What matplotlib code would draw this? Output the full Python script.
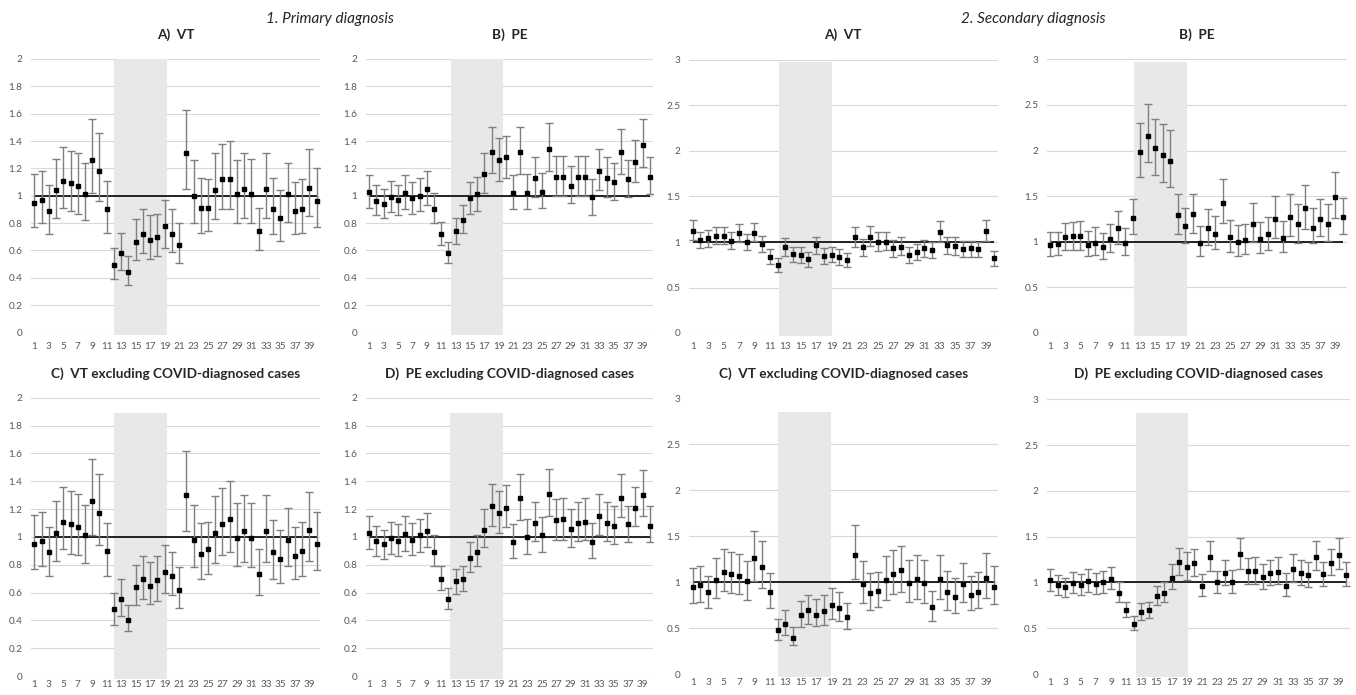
import numpy as np
import matplotlib.pyplot as plt

plt.rcParams['font.family'] = ['Lato', 'DejaVu Sans']

# Week index 1..40, odd weeks labelled on the axis
weeks = np.arange(1, 41)
week_labels = [str(w) if w % 2 == 1 else "" for w in weeks]

# 1. Primary diagnosis, A) VT  (ratio, lower CI, upper CI)
vt_primary = [0.95, 0.97, 0.89, 1.04, 1.11, 1.09, 1.07, 1.01, 1.26, 1.18,
              0.90, 0.49, 0.58, 0.44, 0.66, 0.72, 0.68, 0.70, 0.78, 0.72,
              0.64, 1.31, 1.00, 0.91, 0.91, 1.04, 1.12, 1.12, 1.01, 1.05,
              1.01, 0.74, 1.05, 0.90, 0.84, 1.01, 0.89, 0.90, 1.06, 0.96]
vt_primary_lo = [0.77, 0.80, 0.72, 0.84, 0.91, 0.89, 0.87, 0.82, 1.02, 0.96,
                 0.73, 0.39, 0.46, 0.35, 0.53, 0.58, 0.54, 0.56, 0.62, 0.59,
                 0.51, 1.05, 0.80, 0.73, 0.74, 0.83, 0.90, 0.90, 0.80, 0.84,
                 0.80, 0.60, 0.84, 0.72, 0.67, 0.81, 0.72, 0.73, 0.85, 0.77]
vt_primary_hi = [1.16, 1.18, 1.08, 1.27, 1.36, 1.33, 1.31, 1.24, 1.56, 1.46,
                 1.11, 0.62, 0.73, 0.56, 0.83, 0.90, 0.86, 0.87, 0.97, 0.90,
                 0.80, 1.63, 1.26, 1.13, 1.12, 1.31, 1.38, 1.40, 1.26, 1.31,
                 1.27, 0.91, 1.31, 1.13, 1.04, 1.24, 1.10, 1.12, 1.34, 1.20]

# 1. Primary diagnosis, B) PE
pe_primary = [1.03, 0.96, 0.94, 0.99, 0.97, 1.02, 0.98, 1.00, 1.05, 0.90,
              0.72, 0.58, 0.74, 0.82, 0.98, 1.01, 1.16, 1.32, 1.26, 1.28,
              1.02, 1.32, 1.02, 1.13, 1.03, 1.34, 1.14, 1.14, 1.07, 1.14,
              1.14, 0.99, 1.18, 1.13, 1.10, 1.32, 1.12, 1.25, 1.37, 1.14]
pe_primary_lo = [0.91, 0.86, 0.84, 0.88, 0.86, 0.90, 0.87, 0.89, 0.93, 0.80,
                 0.64, 0.51, 0.65, 0.73, 0.87, 0.89, 1.02, 1.17, 1.11, 1.13,
                 0.90, 1.16, 0.90, 0.99, 0.91, 1.18, 1.00, 1.00, 0.95, 1.00,
                 1.00, 0.86, 1.04, 0.99, 0.97, 1.16, 0.99, 1.10, 1.21, 1.01]
pe_primary_hi = [1.15, 1.08, 1.05, 1.11, 1.08, 1.15, 1.10, 1.13, 1.18, 1.02,
                 0.81, 0.66, 0.84, 0.93, 1.10, 1.14, 1.31, 1.50, 1.42, 1.44,
                 1.15, 1.50, 1.16, 1.28, 1.17, 1.53, 1.29, 1.29, 1.22, 1.29,
                 1.29, 1.12, 1.34, 1.28, 1.24, 1.49, 1.26, 1.41, 1.56, 1.28]

# 2. Secondary diagnosis, A) VT
vt_secondary = [1.12, 1.02, 1.04, 1.07, 1.07, 1.01, 1.10, 1.00, 1.10, 0.98,
                0.84, 0.75, 0.95, 0.87, 0.86, 0.81, 0.97, 0.85, 0.86, 0.84,
                0.80, 1.05, 0.94, 1.06, 1.00, 1.00, 0.93, 0.95, 0.86, 0.89,
                0.93, 0.91, 1.11, 0.97, 0.96, 0.92, 0.93, 0.92, 1.12, 0.82]
vt_secondary_lo = [1.02, 0.93, 0.94, 0.98, 0.98, 0.92, 1.00, 0.91, 1.01, 0.89,
                   0.76, 0.67, 0.85, 0.78, 0.77, 0.72, 0.87, 0.76, 0.78, 0.75,
                   0.72, 0.95, 0.85, 0.96, 0.90, 0.91, 0.84, 0.86, 0.77, 0.80,
                   0.83, 0.82, 1.00, 0.87, 0.86, 0.83, 0.83, 0.83, 1.01, 0.74]
vt_secondary_hi = [1.24, 1.11, 1.13, 1.17, 1.17, 1.11, 1.20, 1.09, 1.21, 1.07,
                   0.92, 0.82, 1.04, 0.95, 0.94, 0.89, 1.06, 0.93, 0.95, 0.92,
                   0.88, 1.16, 1.03, 1.18, 1.11, 1.11, 1.02, 1.05, 0.94, 0.98,
                   1.02, 1.00, 1.23, 1.06, 1.05, 1.01, 1.01, 1.00, 1.24, 0.90]

# 2. Secondary diagnosis, B) PE
pe_secondary = [0.97, 0.98, 1.05, 1.06, 1.06, 0.97, 0.99, 0.94, 1.03, 1.15,
                0.99, 1.26, 1.98, 2.16, 2.03, 1.95, 1.88, 1.29, 1.17, 1.30,
                0.99, 1.15, 1.08, 1.43, 1.05, 1.00, 1.02, 1.19, 1.03, 1.08,
                1.25, 1.04, 1.27, 1.19, 1.37, 1.15, 1.25, 1.19, 1.49, 1.27]
pe_secondary_lo = [0.84, 0.85, 0.91, 0.91, 0.91, 0.84, 0.85, 0.81, 0.89, 0.98,
                   0.85, 1.08, 1.71, 1.87, 1.73, 1.66, 1.60, 1.09, 0.99, 1.10,
                   0.84, 0.97, 0.92, 1.21, 0.89, 0.84, 0.87, 1.00, 0.88, 0.91,
                   1.04, 0.89, 1.06, 0.99, 1.14, 0.99, 1.06, 1.01, 1.26, 1.09]
pe_secondary_hi = [1.11, 1.11, 1.21, 1.22, 1.23, 1.12, 1.16, 1.10, 1.20, 1.34,
                   1.15, 1.47, 2.30, 2.51, 2.35, 2.29, 2.22, 1.52, 1.37, 1.52,
                   1.17, 1.36, 1.28, 1.69, 1.24, 1.18, 1.20, 1.42, 1.22, 1.27,
                   1.50, 1.23, 1.52, 1.41, 1.62, 1.37, 1.47, 1.41, 1.76, 1.48]

# C) VT excluding COVID-diagnosed cases (same series shown in both halves)
vt_excl = [0.95, 0.97, 0.89, 1.03, 1.11, 1.09, 1.07, 1.01, 1.26, 1.17,
           0.90, 0.48, 0.55, 0.40, 0.64, 0.70, 0.65, 0.69, 0.75, 0.72,
           0.62, 1.30, 0.98, 0.88, 0.91, 1.03, 1.09, 1.13, 0.99, 1.04,
           0.99, 0.73, 1.04, 0.89, 0.84, 0.98, 0.86, 0.90, 1.05, 0.95]
vt_excl_lo = [0.77, 0.79, 0.72, 0.83, 0.91, 0.88, 0.87, 0.81, 1.01, 0.94,
              0.72, 0.37, 0.43, 0.32, 0.51, 0.55, 0.52, 0.54, 0.60, 0.58,
              0.49, 1.04, 0.78, 0.70, 0.73, 0.81, 0.87, 0.89, 0.79, 0.82,
              0.78, 0.58, 0.82, 0.70, 0.67, 0.79, 0.70, 0.72, 0.83, 0.76]
vt_excl_hi = [1.16, 1.18, 1.07, 1.26, 1.36, 1.33, 1.31, 1.23, 1.56, 1.45,
              1.10, 0.60, 0.70, 0.51, 0.80, 0.86, 0.82, 0.86, 0.94, 0.89,
              0.78, 1.62, 1.23, 1.10, 1.11, 1.29, 1.35, 1.40, 1.24, 1.30,
              1.24, 0.91, 1.30, 1.12, 1.05, 1.21, 1.07, 1.11, 1.32, 1.18]

# D) PE excluding COVID-diagnosed cases (same series shown in both halves)
pe_excl = [1.03, 0.97, 0.95, 0.99, 0.97, 1.02, 0.98, 1.01, 1.04, 0.89,
           0.70, 0.55, 0.68, 0.70, 0.85, 0.89, 1.05, 1.22, 1.17, 1.21,
           0.96, 1.28, 1.00, 1.10, 1.01, 1.31, 1.12, 1.13, 1.06, 1.10,
           1.11, 0.96, 1.15, 1.10, 1.08, 1.28, 1.09, 1.21, 1.30, 1.08]
pe_excl_lo = [0.91, 0.86, 0.84, 0.88, 0.86, 0.90, 0.87, 0.89, 0.93, 0.79,
              0.62, 0.48, 0.59, 0.61, 0.75, 0.79, 0.93, 1.08, 1.03, 1.07,
              0.85, 1.12, 0.88, 0.97, 0.89, 1.15, 0.98, 0.98, 0.93, 0.97,
              0.98, 0.85, 1.01, 0.97, 0.95, 1.14, 0.96, 1.08, 1.15, 0.96]
pe_excl_hi = [1.15, 1.08, 1.05, 1.11, 1.09, 1.15, 1.10, 1.13, 1.17, 1.01,
              0.79, 0.63, 0.77, 0.79, 0.96, 1.01, 1.20, 1.38, 1.33, 1.37,
              1.09, 1.45, 1.13, 1.25, 1.14, 1.49, 1.27, 1.28, 1.20, 1.25,
              1.28, 1.10, 1.31, 1.25, 1.22, 1.45, 1.22, 1.36, 1.48, 1.22]

REF_RATIO = 1.0

W, H = 1356, 695
TEXT_GREY = "#595959"
GRID_GREY = "#d9d9d9"
SHADE_GREY = "#e8e8e8"
BAR_GREY = "#7f7f7f"


def px_rect(left, right, top, bottom):
    # pixel box of the plot area -> figure fraction rect
    return [left / W, 1 - bottom / H, (right - left) / W, (bottom - top) / H]


def draw_panel(ax, est, lo, hi, ymax, ystep, shade, xpad):
    est, lo, hi = np.asarray(est), np.asarray(lo), np.asarray(hi)

    ax.set_xlim(0.5, 40.5)
    ax.set_ylim(0, ymax)
    for s in ax.spines.values():
        s.set_visible(False)

    yticks = np.arange(0, ymax + ystep / 2, ystep)
    ax.set_yticks(yticks)
    ax.set_yticklabels([f"{t:g}" for t in yticks])
    ax.set_xticks(weeks)
    ax.set_xticklabels(week_labels)
    ax.tick_params(axis='both', length=0, labelsize=7.2, colors=TEXT_GREY)
    ax.tick_params(axis='y', pad=6)
    ax.tick_params(axis='x', pad=xpad)
    ax.grid(axis='y', color=GRID_GREY, linewidth=0.8, zorder=0)
    ax.set_axisbelow(True)

    # shaded lockdown period
    x0, x1, top = shade
    ax.fill_between([x0, x1], -0.01 * ymax, top, color=SHADE_GREY,
                    linewidth=0, zorder=0.8, clip_on=False)

    ax.hlines(REF_RATIO, weeks[0], weeks[-1], color='black', linewidth=1.2, zorder=2)
    ax.errorbar(weeks, est, yerr=[est - lo, hi - est], fmt='s', ms=3.3,
                mfc='black', mec='black', ecolor=BAR_GREY, elinewidth=1.0,
                capsize=3.2, capthick=1.0, zorder=3)


def main():
    fig = plt.figure(figsize=(W / 100, H / 100), dpi=100)

    panels = [
        # data, ymax, step, pixel box, shade (x0, x1, top), title, title y px, xpad
        (vt_primary, vt_primary_lo, vt_primary_hi, 2, 0.2, (30.7, 320.2, 59, 332.5),
         (12.0, 19.3, 2.0), "A)  VT", 35, 6.5),
        (pe_primary, pe_primary_lo, pe_primary_hi, 2, 0.2, (365.7, 653.3, 59, 332.5),
         (12.3, 19.6, 2.0), "B)  PE", 35, 6.5),
        (vt_secondary, vt_secondary_lo, vt_secondary_hi, 3, 0.5, (688.8, 997.6, 60, 333),
         (12.2, 19.05, 2.98), "A)  VT", 35, 6.5),
        (pe_secondary, pe_secondary_lo, pe_secondary_hi, 3, 0.5, (1046.6, 1346.6, 59.3, 333),
         (12.2, 19.2, 2.97), "B)  PE", 35, 6.5),
        (vt_excl, vt_excl_lo, vt_excl_hi, 2, 0.2, (30.7, 320.2, 397.7, 676),
         (12.05, 19.3, 1.89), "C)  VT excluding COVID-diagnosed cases", 374, 3),
        (pe_excl, pe_excl_lo, pe_excl_hi, 2, 0.2, (365.7, 653.3, 397.7, 676),
         (12.2, 19.55, 1.89), "D)  PE excluding COVID-diagnosed cases", 374, 3),
        (vt_excl, vt_excl_lo, vt_excl_hi, 3, 0.5, (688.8, 997.6, 398.3, 674.3),
         (12.0, 18.9, 2.85), "C)  VT excluding COVID-diagnosed cases", 374, 3),
        (pe_excl, pe_excl_lo, pe_excl_hi, 3, 0.5, (1046.5, 1350, 399.3, 674),
         (12.3, 19.2, 2.85), "D)  PE excluding COVID-diagnosed cases", 374, 3),
    ]

    axes = []
    for est, lo, hi, ymax, step, box, shade, title, ty, xpad in panels:
        ax = fig.add_axes(px_rect(*box))
        draw_panel(ax, est, lo, hi, ymax, step, shade, xpad)
        cx = (box[0] + box[1]) / 2 / W
        fig.text(cx, 1 - ty / H, title, ha='center', va='center',
                 fontsize=9.8, fontweight='bold', color='#262626')
        axes.append(ax)

    # secondary VT (excl. COVID) panel has no top gridline in the original
    axes[6].yaxis.get_gridlines()[-1].set_visible(False)

    fig.text(330 / W, 1 - 19 / H, "1. Primary diagnosis", ha='center', va='center',
             fontsize=11, style='italic', color='#262626')
    fig.text(1033 / W, 1 - 19 / H, "2. Secondary diagnosis", ha='center', va='center',
             fontsize=11, style='italic', color='#262626')

    fig.savefig("out.png", dpi=100, facecolor='white')


if __name__ == "__main__":
    main()
